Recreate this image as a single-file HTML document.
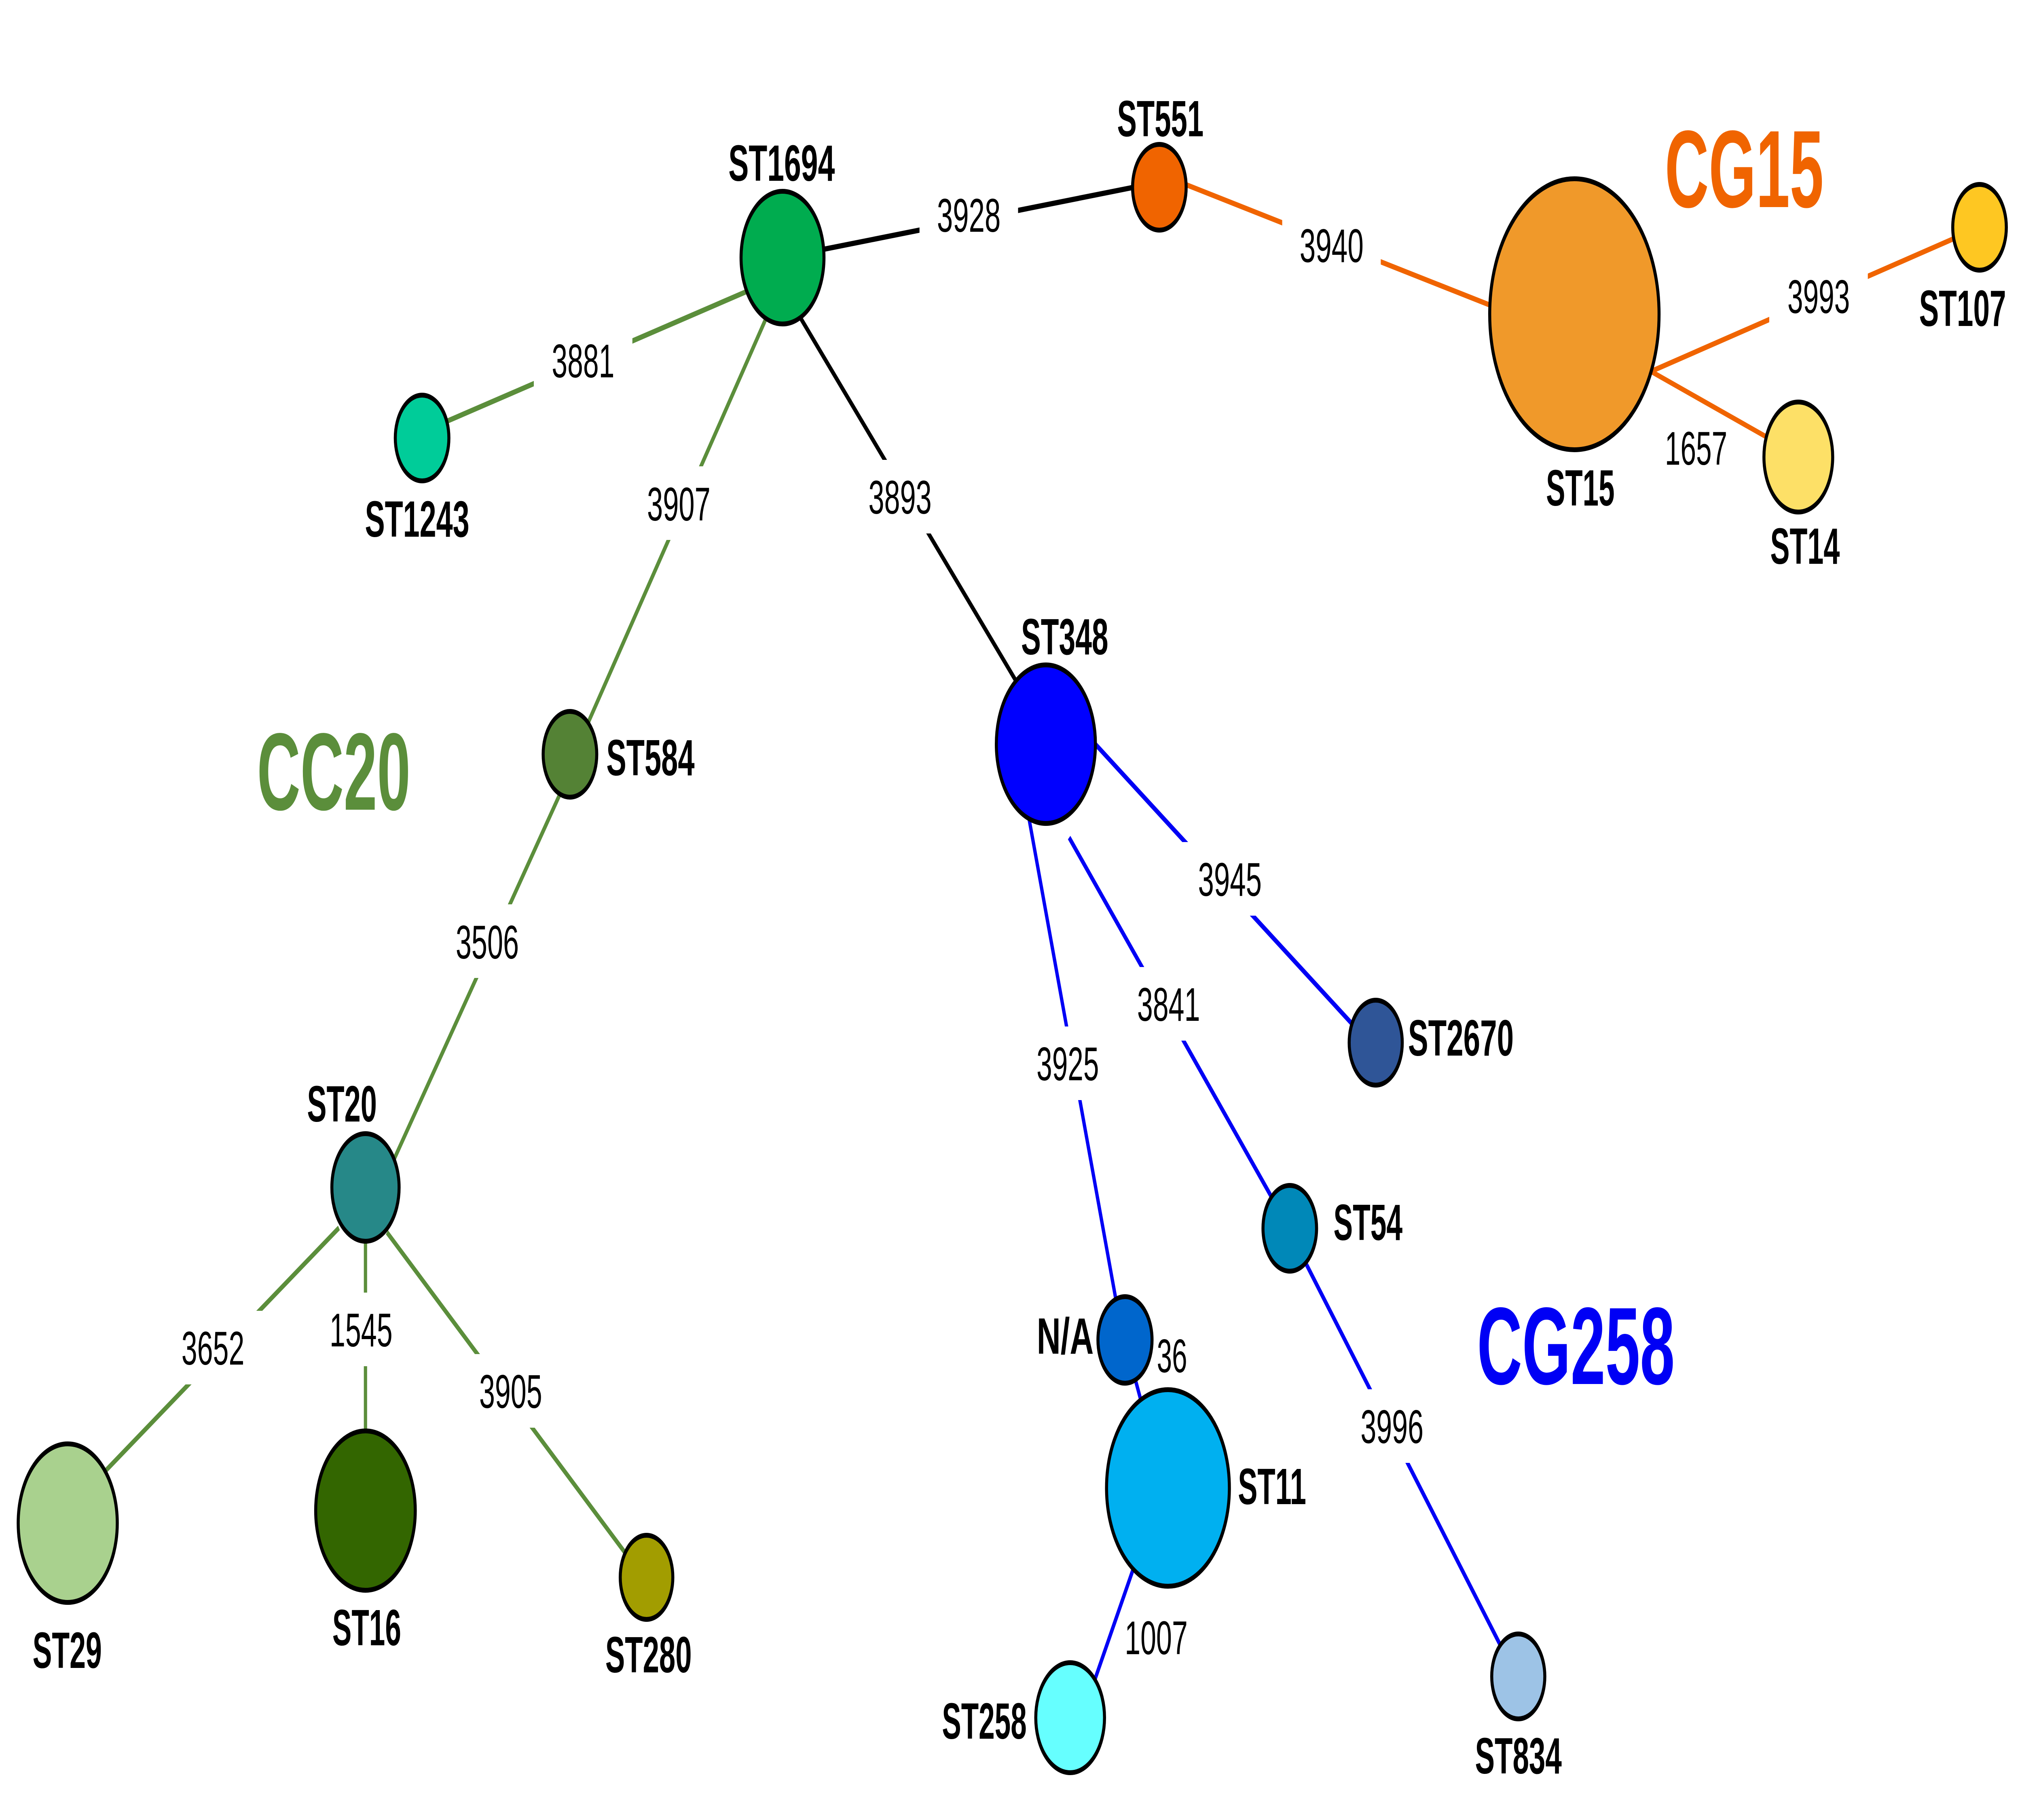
<!DOCTYPE html>
<html><head><meta charset="utf-8"><style>
html,body{margin:0;padding:0;background:#fff;overflow:hidden;width:100%;height:100%;}
svg{display:block;position:fixed;left:0;top:0;width:100vw;height:100vh;}
.n{font-family:"Liberation Sans",sans-serif;font-weight:bold;font-size:126px;fill:#000;}
.e{font-family:"Liberation Sans",sans-serif;font-size:117px;fill:#000;}
.b{font-family:"Liberation Sans",sans-serif;font-weight:bold;font-size:272px;}
</style></head><body>
<svg viewBox="0 0 8000 4500" preserveAspectRatio="none" xmlns="http://www.w3.org/2000/svg">
<rect width="8000" height="4500" fill="#fff"/>
<g stroke-width="13" fill="none">
<line x1="3150" y1="630" x2="4550" y2="455" stroke="#000"/>
<line x1="3150" y1="768" x2="4100" y2="1768" stroke="#000"/>
<line x1="4650" y1="446" x2="5950" y2="768" stroke="#f06400"/>
<line x1="6537" y1="917" x2="7832" y2="562" stroke="#f06400"/>
<line x1="6537" y1="920" x2="7115" y2="1125" stroke="#f06400"/>
<line x1="2990" y1="711" x2="1700" y2="1060" stroke="#5b8e3b"/>
<line x1="3031" y1="787" x2="2300" y2="1825" stroke="#5b8e3b"/>
<line x1="2255" y1="1909" x2="1520" y2="2920" stroke="#5b8e3b"/>
<line x1="1341" y1="3036" x2="400" y2="3648" stroke="#5b8e3b"/>
<line x1="1446" y1="2936" x2="1446" y2="3735" stroke="#5b8e3b"/>
<line x1="1531" y1="3047" x2="2480" y2="3845" stroke="#5b8e3b"/>
<line x1="4300" y1="1817" x2="5400" y2="2566" stroke="#0000f5"/>
<line x1="4230" y1="2071" x2="5060" y2="2992" stroke="#0000f5"/>
<line x1="5140" y1="3091" x2="5960" y2="4097" stroke="#0000f5"/>
<line x1="4060" y1="1985" x2="4430" y2="3265" stroke="#0000f5"/>
<line x1="4470" y1="3360" x2="4530" y2="3500" stroke="#0000f5"/>
<line x1="4500" y1="3850" x2="4300" y2="4210" stroke="#0000f5"/>
</g>
<g fill="#fff">
<rect x="3638" y="440" width="390" height="182"/>
<rect x="5073" y="515" width="390" height="182"/>
<rect x="7000" y="641" width="390" height="182"/>
<rect x="2112" y="800" width="390" height="182"/>
<rect x="2490" y="1153" width="390" height="182"/>
<rect x="3366" y="1137" width="390" height="182"/>
<rect x="4671" y="2082" width="390" height="182"/>
<rect x="4428" y="2391" width="390" height="182"/>
<rect x="4030" y="2538" width="390" height="182"/>
<rect x="5312" y="3435" width="390" height="182"/>
<rect x="1733" y="2236" width="390" height="182"/>
<rect x="647" y="3241" width="390" height="182"/>
<rect x="1234" y="3196" width="390" height="182"/>
<rect x="1826" y="3348" width="390" height="182"/>
</g>
<g stroke="#000" stroke-width="12">
<circle cx="3096" cy="637" r="164" fill="#00ac4f"/>
<circle cx="4587" cy="463" r="106" fill="#f06400"/>
<circle cx="6229" cy="777" r="335" fill="#f0992a"/>
<circle cx="7832" cy="562" r="106" fill="#fec722"/>
<circle cx="7115" cy="1130" r="136" fill="#fde067"/>
<circle cx="1670" cy="1083" r="106" fill="#00cc99"/>
<circle cx="2255" cy="1865" r="106" fill="#548235"/>
<circle cx="4138" cy="1840" r="196" fill="#0000ff"/>
<circle cx="5443" cy="2578" r="105" fill="#2f5597"/>
<circle cx="5103" cy="3037" r="106" fill="#0088b8"/>
<circle cx="4451" cy="3313" r="107" fill="#0066cc"/>
<circle cx="4621" cy="3679" r="243" fill="#00b0f0"/>
<circle cx="4234" cy="4247" r="136" fill="#66ffff"/>
<circle cx="6007" cy="4145" r="105" fill="#9dc3e6"/>
<circle cx="1446" cy="2936" r="133" fill="#268888"/>
<circle cx="268" cy="3766" r="196" fill="#a9d18e"/>
<circle cx="1446" cy="3735" r="197" fill="#336600"/>
<circle cx="2558" cy="3900" r="104" fill="#a29d00"/>
</g>
<g class="n">
<text x="2882" y="447" textLength="421" lengthAdjust="spacingAndGlyphs">ST1694</text>
<text x="4420" y="337" textLength="342" lengthAdjust="spacingAndGlyphs">ST551</text>
<text x="6117" y="1250" textLength="271" lengthAdjust="spacingAndGlyphs">ST15</text>
<text x="7593" y="806" textLength="344" lengthAdjust="spacingAndGlyphs">ST107</text>
<text x="7004" y="1394" textLength="275" lengthAdjust="spacingAndGlyphs">ST14</text>
<text x="1444" y="1327" textLength="413" lengthAdjust="spacingAndGlyphs">ST1243</text>
<text x="2399" y="1917" textLength="349" lengthAdjust="spacingAndGlyphs">ST584</text>
<text x="4040" y="1618" textLength="345" lengthAdjust="spacingAndGlyphs">ST348</text>
<text x="5571" y="2610" textLength="418" lengthAdjust="spacingAndGlyphs">ST2670</text>
<text x="5276" y="3066" textLength="273" lengthAdjust="spacingAndGlyphs">ST54</text>
<text x="4102" y="3347" textLength="225" lengthAdjust="spacingAndGlyphs">N/A</text>
<text x="4898" y="3719" textLength="270" lengthAdjust="spacingAndGlyphs">ST11</text>
<text x="3727" y="4299" textLength="335" lengthAdjust="spacingAndGlyphs">ST258</text>
<text x="5836" y="4385" textLength="343" lengthAdjust="spacingAndGlyphs">ST834</text>
<text x="1215" y="2773" textLength="276" lengthAdjust="spacingAndGlyphs">ST20</text>
<text x="129" y="4124" textLength="274" lengthAdjust="spacingAndGlyphs">ST29</text>
<text x="1315" y="4068" textLength="272" lengthAdjust="spacingAndGlyphs">ST16</text>
<text x="2395" y="4135" textLength="342" lengthAdjust="spacingAndGlyphs">ST280</text>
</g>
<g class="e">
<text x="3707" y="573" textLength="252" lengthAdjust="spacingAndGlyphs">3928</text>
<text x="5142" y="648" textLength="253" lengthAdjust="spacingAndGlyphs">3940</text>
<text x="7072" y="774" textLength="247" lengthAdjust="spacingAndGlyphs">3993</text>
<text x="6587" y="1149" textLength="247" lengthAdjust="spacingAndGlyphs">1657</text>
<text x="2183" y="933" textLength="248" lengthAdjust="spacingAndGlyphs">3881</text>
<text x="2560" y="1287" textLength="251" lengthAdjust="spacingAndGlyphs">3907</text>
<text x="3436" y="1270" textLength="250" lengthAdjust="spacingAndGlyphs">3893</text>
<text x="4740" y="2215" textLength="252" lengthAdjust="spacingAndGlyphs">3945</text>
<text x="4499" y="2524" textLength="249" lengthAdjust="spacingAndGlyphs">3841</text>
<text x="4101" y="2671" textLength="247" lengthAdjust="spacingAndGlyphs">3925</text>
<text x="5383" y="3568" textLength="249" lengthAdjust="spacingAndGlyphs">3996</text>
<text x="4450" y="4090" textLength="249" lengthAdjust="spacingAndGlyphs">1007</text>
<text x="4577" y="3393" textLength="120" lengthAdjust="spacingAndGlyphs">36</text>
<text x="1803" y="2370" textLength="250" lengthAdjust="spacingAndGlyphs">3506</text>
<text x="718" y="3374" textLength="249" lengthAdjust="spacingAndGlyphs">3652</text>
<text x="1304" y="3329" textLength="249" lengthAdjust="spacingAndGlyphs">1545</text>
<text x="1896" y="3481" textLength="249" lengthAdjust="spacingAndGlyphs">3905</text>
</g>
<text class="b" x="6587" y="512" fill="#f06400" textLength="628" lengthAdjust="spacingAndGlyphs">CG15</text>
<text class="b" x="1017" y="2002" fill="#5b8e3b" textLength="607" lengthAdjust="spacingAndGlyphs">CC20</text>
<text class="b" x="5844" y="3422" fill="#0000f5" textLength="782" lengthAdjust="spacingAndGlyphs">CG258</text>
</svg>
</body></html>
